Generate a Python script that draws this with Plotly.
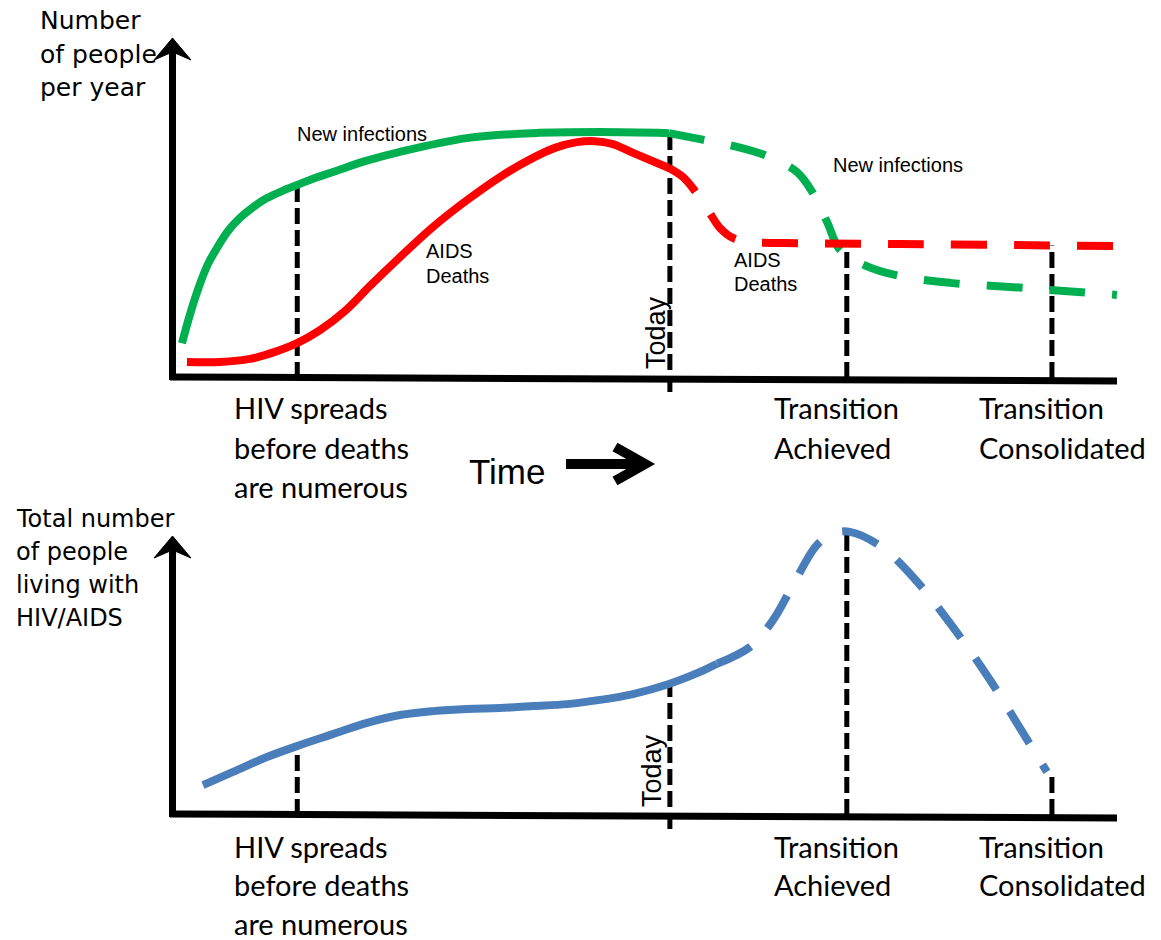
import numpy as np
import plotly.graph_objects as go

W, H = 1161, 940

GREEN = "#00B050"
RED = "#FF0000"
BLUE = "#4A7EBB"
ARIAL = "Liberation Sans, Arial, sans-serif"
WIDE = "DejaVu Sans, Arial, sans-serif"
CALIBRI = "Lato, Carlito, Calibri, sans-serif"

# time axis: 0 = origin, 100 = end of the horizontal axis
TODAY = 52.6
BLUE_PROJ_FROM = 57.7
milestones = [13.1, 52.7, 71.5, 93.3]  # HIV spreads, Today, Transition achieved, consolidated

# top panel: people per year
green_t = [0.85, 1.81, 2.76, 3.61, 4.57, 5.74, 7.01, 8.40, 9.88, 11.48, 13.07, 14.98, 16.89,
           20.40, 24.02, 31.1, 38.2, 45.3, 52.6,
           55.9, 59.4, 63.0, 66.2, 67.9, 69.4, 70.8, 73.6, 77.2, 82.5, 88.8, 93.1, 100.2]
green_v = [10.4, 20.0, 28.1, 34.0, 38.8, 43.9, 47.8, 51.0, 53.7, 55.8, 57.6, 59.7, 61.5,
           64.8, 67.5, 71.6, 73.1, 73.4, 73.1,
           71.3, 69.3, 66.3, 61.5, 55.2, 46.6, 38.2, 33.4, 30.4, 28.4, 27.2, 26.3, 24.8]
red_t = [1.38, 4.89, 8.08, 10.73, 13.07, 15.52, 18.17, 20.83, 24.02, 27.52, 31.14, 34.64, 38.15,
         40.49, 42.83, 44.74, 46.55, 48.78, 52.6,
         54.09, 55.37, 56.75, 58.02, 59.40, 61.21, 64.72, 77.15, 100.2]
red_v = [4.8, 4.8, 5.7, 7.8, 10.4, 14.3, 20.0, 27.5, 36.1, 45.1, 53.1, 60.0, 65.7,
         68.7, 70.4, 70.7, 69.9, 67.2, 62.7,
         60.0, 55.8, 50.1, 44.8, 41.8, 40.6, 40.3, 40.0, 39.4]

# bottom panel: people living with HIV/AIDS
blue_t = [3.08, 6.27, 9.88, 13.07, 16.90, 20.51, 24.02, 27.52, 31.14, 34.64, 38.15, 41.76, 45.27,
          48.78, 52.60, 55.90, 57.70,
          61.21, 63.66, 65.78, 68.33, 70.24, 71.84, 75.03, 78.53, 82.78, 86.72, 90.22, 92.77]
blue_v = [10.7, 15.4, 20.7, 24.6, 28.9, 32.9, 35.7, 37.1, 37.9, 38.2, 38.9, 39.6, 41.1,
          43.2, 46.8, 51.1, 54.0,
          60.0, 69.6, 82.1, 96.4, 100.7, 101.1, 96.1, 85.0, 67.1, 48.2, 29.3, 15.4]


def split(t, v, at):
    t, v = np.array(t), np.array(v)
    a, b = t <= at, t >= at
    return (t[a], v[a]), (t[b], v[b])


def curve(t, v, color, dash, ax):
    return go.Scatter(x=t, y=v, mode="lines", xaxis=ax[0], yaxis=ax[1],
                      line=dict(color=color, width=8, dash=dash, shape="spline", smoothing=1),
                      hoverinfo="skip", showlegend=False)


def vline(t, top, bottom, ax):
    return go.Scatter(x=[t, t], y=[bottom, top], mode="lines", xaxis=ax[0], yaxis=ax[1],
                      line=dict(color="black", width=5, dash="16px,6px"),
                      hoverinfo="skip", showlegend=False)


TOP, BOT = ("x", "y"), ("x2", "y2")
fig = go.Figure()

# dashed milestone markers (drawn first, curves sit on them)
for i, m in enumerate(milestones):
    top = max(np.interp(m, green_t, green_v), np.interp(m, red_t, red_v))
    fig.add_trace(vline(m, top, -4.2 if i == 1 else 0, TOP))
    fig.add_trace(vline(m, np.interp(m, blue_t, blue_v), -5 if i == 1 else 0, BOT))

(gs, gd) = split(green_t, green_v, TODAY)
(rs, rd) = split(red_t, red_v, TODAY)
(bs, bd) = split(blue_t, blue_v, BLUE_PROJ_FROM)
fig.add_trace(curve(*gs, GREEN, "solid", TOP))
fig.add_trace(curve(*gd, GREEN, "36px,27px", TOP))
fig.add_trace(curve(*rs, RED, "solid", TOP))
fig.add_trace(curve(*rd, RED, "36px,27px", TOP))
fig.add_trace(curve(*bs, BLUE, "solid", BOT))
fig.add_trace(curve(*bd, BLUE, "38px,25px", BOT))


def px(x):
    return x / W


def py(y):
    return 1 - y / H


def path(points, close=True):
    s = "M " + " L ".join(f"{px(x):.5f},{py(y):.5f}" for x, y in points)
    return s + (" Z" if close else "")


def line(x0, y0, x1, y1, width=7):
    fig.add_shape(type="line", xref="paper", yref="paper", x0=px(x0), y0=py(y0),
                  x1=px(x1), y1=py(y1), line=dict(color="black", width=width))


# axes with arrow heads
for base_l, base_r, ax_top, tip in [(377, 381, 52, 38), (814, 818, 550, 536)]:
    line(170, base_l, 1117, base_r)
    line(172.5, base_l + 3, 172.5, ax_top)
    fig.add_shape(type="path", xref="paper", yref="paper",
                  path=path([(172.5, tip), (154, tip + 22), (172.5, tip + 14), (191, tip + 22)]),
                  fillcolor="black", line=dict(color="black", width=1))

# "Time" arrow
line(566, 464, 638, 464, width=10)
fig.add_shape(type="path", xref="paper", yref="paper",
              path=path([(615, 447), (645, 464), (615, 481)], close=False),
              fillcolor="rgba(0,0,0,0)", line=dict(color="black", width=10))


def text(s, x, y, size, family, anchor="left", angle=0):
    fig.add_annotation(text=s, x=px(x), y=py(y), xref="paper", yref="paper", showarrow=False,
                       xanchor=anchor, yanchor="middle", textangle=angle,
                       font=dict(size=size, family=family, color="black"))


for s, y in [("Number", 21), ("of people", 54), ("per year", 87)]:
    text(s, 38, y, 25, WIDE)
for s, y in [("Total number", 519), ("of people", 552), ("living with", 585), ("HIV/AIDS", 618)]:
    text(s, 14, y, 24, WIDE)

text("New infections", 295, 134, 20, ARIAL)
text("New infections", 831, 165, 20, ARIAL)
text("AIDS", 424, 251, 20, ARIAL)
text("Deaths", 424, 276, 20, ARIAL)
text("AIDS", 732, 260, 20, ARIAL)
text("Deaths", 732, 284, 20, ARIAL)
text("Today", 656, 333, 27, ARIAL, anchor="center", angle=-90)
text("Today", 652, 771, 27, ARIAL, anchor="center", angle=-90)
text("Time", 467, 471, 35, ARIAL)

for y0, step in ((408, 39), (846, 38.5)):
    for k, s in enumerate(["HIV spreads", "before deaths", "are numerous"]):
        text(s, 232, y0 + k * step, 29, CALIBRI)
    text("Transition", 772, y0, 29, CALIBRI)
    text("Achieved", 772, y0 + step, 29, CALIBRI)
    text("Transition", 977, y0, 29, CALIBRI)
    text("Consolidated", 977, y0 + step, 29, CALIBRI)

hidden = dict(visible=False, fixedrange=True)
fig.update_layout(
    width=W, height=H,
    margin=dict(l=0, r=0, t=0, b=0),
    paper_bgcolor="white", plot_bgcolor="white",
    showlegend=False,
    xaxis=dict(hidden, range=[-18.49, 104.89], domain=[0, 1]),
    yaxis=dict(hidden, range=[-27.46, 112.84], domain=[0.5, 1]),
    xaxis2=dict(hidden, range=[-18.49, 104.89], domain=[0, 1], anchor="y2"),
    yaxis2=dict(hidden, range=[-44.64, 123.21], domain=[0, 0.5], anchor="x2"),
)

# page has a default 8px body margin; drop it so the figure fills the window
fig.write_html("out.html", config={"displayModeBar": False},
               post_script="document.body.style.margin='0';")
